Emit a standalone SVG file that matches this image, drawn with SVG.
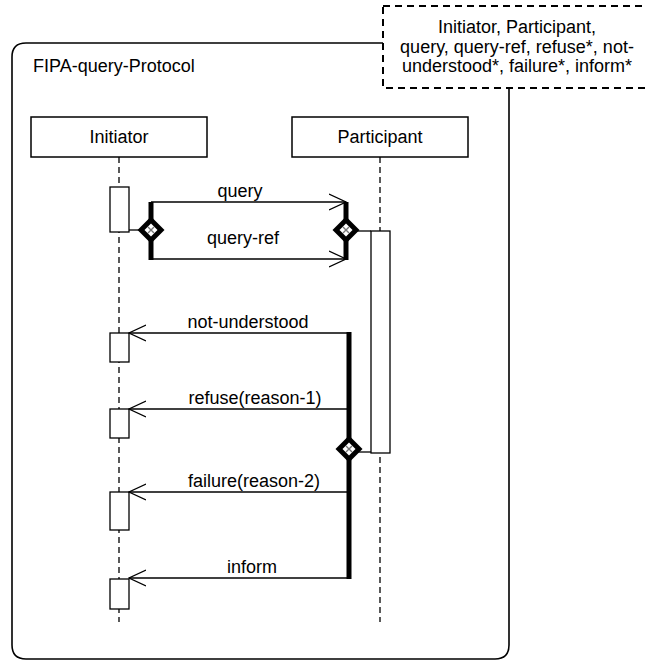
<svg xmlns="http://www.w3.org/2000/svg" width="647" height="664" viewBox="0 0 647 664">
  <style>
    text { font-family: "Liberation Sans", Arial, sans-serif; font-size: 18px; fill: #000; }
    .frame { fill: none; stroke: #000; stroke-width: 1.6; }
    .box { fill: #fff; stroke: #000; stroke-width: 1.5; }
    .life { stroke: #000; stroke-width: 1.3; stroke-dasharray: 6 4; fill: none; }
    .act { fill: #fff; stroke: #000; stroke-width: 1.3; }
    .msg { stroke: #000; stroke-width: 1.3; fill: none; marker-end: url(#open); }
    .link { stroke: #000; stroke-width: 1.3; fill: none; }
    .bar { stroke: #000; stroke-width: 5; fill: none; }
    .note { fill: #fff; stroke: #000; stroke-width: 2; stroke-dasharray: 7 5; }
  </style>
  <defs>
    <marker id="open" viewBox="0 0 18 18" refX="17" refY="9" markerWidth="18" markerHeight="18" orient="auto" markerUnits="userSpaceOnUse">
      <path d="M0,1 L17,9 L0,17" fill="none" stroke="#000" stroke-width="1.3"/>
    </marker>
    <!-- XOR connector: black diamond with a crossed white centre -->
    <g id="xor">
      <polygon points="0,-13.5 13.5,0 0,13.5 -13.5,0" fill="#000"/>
      <polygon points="0,-6.5 6.5,0 0,6.5 -6.5,0" fill="#fff"/>
      <path d="M-3,-3 L3,3 M-3,3 L3,-3" stroke="#777" stroke-width="1.4"/>
    </g>
  </defs>

  <!-- protocol frame -->
  <g id="frame">
    <path class="frame" d="M12,57 Q12,43 26,43 L509,43 L509,645 Q509,659 495,659 L26,659 Q12,659 12,645 Z"/>
    <text x="33" y="72">FIPA-query-Protocol</text>
  </g>

  <!-- parameter note -->
  <g id="note">
    <rect class="note" x="383" y="6" width="270" height="82"/>
    <text x="517" y="33" text-anchor="middle">Initiator, Participant,</text>
    <text x="517" y="53" text-anchor="middle">query, query-ref, refuse*, not-</text>
    <text x="517" y="72" text-anchor="middle">understood*, failure*, inform*</text>
  </g>

  <!-- lifelines -->
  <g id="initiator">
    <line class="life" x1="119" y1="157" x2="119" y2="622"/>
    <rect class="box" x="31" y="117" width="176" height="40"/>
    <text x="119" y="143" text-anchor="middle">Initiator</text>
    <rect class="act" x="110" y="187" width="19" height="45"/>
    <rect class="act" x="110" y="333" width="19" height="29"/>
    <rect class="act" x="110" y="409" width="19" height="29"/>
    <rect class="act" x="110" y="492" width="19" height="38"/>
    <rect class="act" x="110" y="579" width="19" height="30"/>
  </g>

  <g id="participant">
    <line class="life" x1="380" y1="157" x2="380" y2="622"/>
    <rect class="box" x="292" y="117" width="176" height="40"/>
    <text x="380" y="143" text-anchor="middle">Participant</text>
    <rect class="act" x="371" y="231" width="19" height="222"/>
  </g>

  <!-- messages -->
  <g id="connectors">
    <!-- query / query-ref (exclusive choice) -->
    <line class="link" x1="129" y1="230" x2="151" y2="230"/>
    <line class="bar" x1="151" y1="202" x2="151" y2="260"/>
    <line class="bar" x1="346" y1="202" x2="346" y2="260"/>
    <line class="link" x1="346" y1="231" x2="371" y2="231"/>
    <line class="msg" x1="151" y1="202" x2="346" y2="202"/>
    <line class="msg" x1="151" y1="259" x2="346" y2="259"/>
    <use href="#xor" x="151" y="230"/>
    <use href="#xor" x="346" y="230"/>
    <text x="240" y="197" text-anchor="middle">query</text>
    <text x="243" y="244" text-anchor="middle">query-ref</text>

    <!-- replies (exclusive choice) -->
    <line class="bar" x1="349" y1="332" x2="349" y2="579"/>
    <line class="link" x1="349" y1="452" x2="371" y2="452"/>
    <line class="msg" x1="349" y1="333" x2="129" y2="333"/>
    <line class="msg" x1="349" y1="409" x2="129" y2="409"/>
    <line class="msg" x1="349" y1="492" x2="129" y2="492"/>
    <line class="msg" x1="349" y1="578" x2="129" y2="578"/>
    <use href="#xor" x="349" y="449"/>
    <text x="248" y="328" text-anchor="middle">not-understood</text>
    <text x="255" y="404" text-anchor="middle">refuse(reason-1)</text>
    <text x="254" y="487" text-anchor="middle">failure(reason-2)</text>
    <text x="252" y="573" text-anchor="middle">inform</text>
  </g>
</svg>
